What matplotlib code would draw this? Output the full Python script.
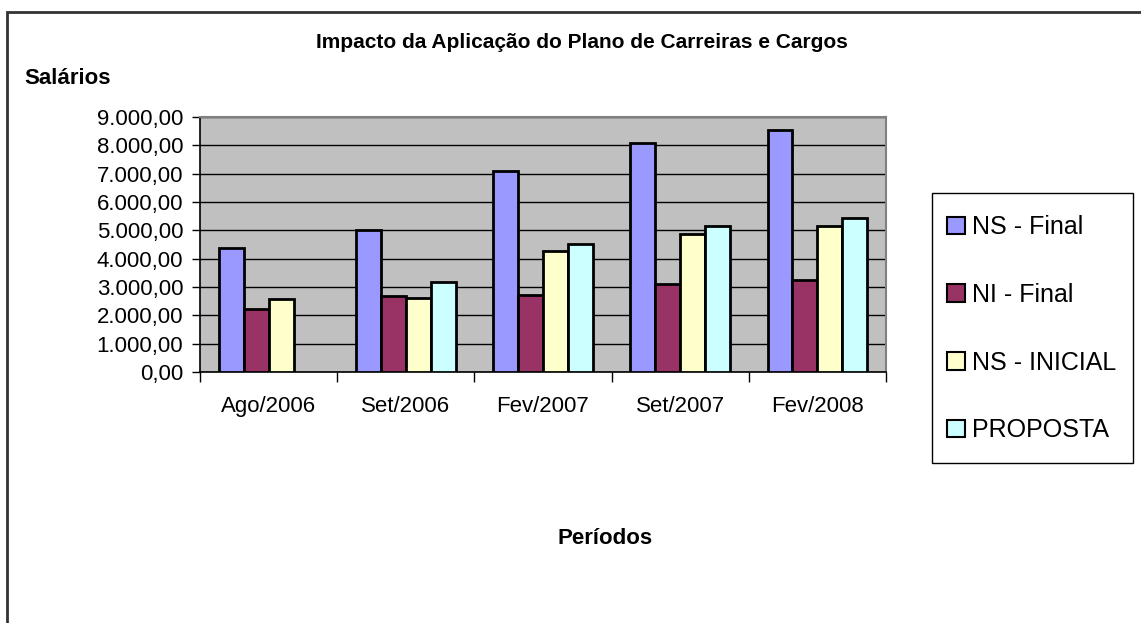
import numpy as np
import matplotlib
matplotlib.use("Agg")
import matplotlib.pyplot as plt
from matplotlib.patches import Rectangle, Patch
from matplotlib.ticker import FuncFormatter, FixedLocator

plt.rcParams['font.family'] = ['Liberation Sans', 'DejaVu Sans']

categories = ["Ago/2006", "Set/2006", "Fev/2007", "Set/2007", "Fev/2008"]
series_names = ["NS - Final", "NI - Final", "NS - INICIAL", "PROPOSTA"]
ns_final = [4390, 5010, 7100, 8080, 8550]
ni_final = [2210, 2680, 2720, 3090, 3260]
ns_inicial = [2570, 2600, 4280, 4870, 5165]
proposta = [np.nan, 3180, 4510, 5140, 5435]
colors = ["#9999FF", "#993366", "#FFFFCC", "#CCFFFF"]

title = "Impacto da Aplicação do Plano de Carreiras e Cargos"
ylabel = "Salários"
xlabel = "Períodos"

W, H = 1141, 623
fig = plt.figure(figsize=(W / 100, H / 100), dpi=100)
ax = fig.add_axes([200 / W, (H - 372) / H, 686 / W, 255 / H])
ax.set_facecolor("#C0C0C0")

n_series = 4
bw = 1 / 5.5
centers = np.arange(len(categories)) + 0.5
all_series = [ns_final, ni_final, ns_inicial, proposta]
handles = []
for i, (vals, col, name) in enumerate(zip(all_series, colors, series_names)):
    vals = np.asarray(vals, dtype=float)
    mask = ~np.isnan(vals)
    x = centers + (i - (n_series - 1) / 2) * bw
    ax.bar(x[mask], vals[mask], width=bw, color=col, edgecolor="black",
           linewidth=2.0, zorder=3)
    handles.append(Patch(facecolor=col, edgecolor="black", linewidth=1.5, label=name))

ax.set_xlim(0, len(categories))
ax.set_ylim(0, 9000)
ax.yaxis.set_major_locator(FixedLocator(np.arange(0, 9001, 1000)))


def br_fmt(v, pos):
    s = f"{v:,.2f}"
    return s.replace(",", "X").replace(".", ",").replace("X", ".")


ax.yaxis.set_major_formatter(FuncFormatter(br_fmt))
ax.grid(axis="y", color="black", linewidth=1.0, zorder=1)
ax.set_axisbelow(True)

ax.set_xticks(np.arange(0, len(categories) + 1))
ax.set_xticklabels([])
ax.set_xticks(centers, minor=True)
ax.set_xticklabels(categories, minor=True)
ax.tick_params(axis="x", which="major", direction="out", length=7, width=1, color="black")
ax.tick_params(axis="x", which="minor", length=0, labelsize=16, pad=17)
ax.tick_params(axis="y", direction="out", length=6, width=1, labelsize=16, pad=6)

for s in ["top", "right"]:
    ax.spines[s].set_color("#808080")
    ax.spines[s].set_linewidth(1.5)
for s in ["left", "bottom"]:
    ax.spines[s].set_color("black")
    ax.spines[s].set_linewidth(1.2)

fig.text(582 / W, 1 - 43 / H, title, ha="center", va="center",
         fontsize=15, fontweight="bold")
fig.text(24 / W, 1 - 78 / H, ylabel, ha="left", va="center",
         fontsize=16, fontweight="bold")
fig.text(605 / W, 1 - 538 / H, xlabel, ha="center", va="center",
         fontsize=16, fontweight="bold")

# legend box
legbox = Rectangle((932 / W, 1 - 463 / H), 201 / W, 270 / H, transform=fig.transFigure,
                   facecolor="white", edgecolor="black", linewidth=1.0, zorder=4)
fig.add_artist(legbox)
leg = fig.legend(handles=handles, loc="upper left",
                 bbox_to_anchor=(947 / W, 1 - 215 / H),
                 fontsize=18, frameon=False,
                 handlelength=0.7, handleheight=0.7, handletextpad=0.3,
                 labelspacing=1.75, borderpad=0, borderaxespad=0)
leg.set_zorder(5)

border = Rectangle((7 / W, -0.2), 1.5, 1.2 - 12 / H, transform=fig.transFigure,
                   fill=False, edgecolor="#333333", linewidth=2.0, clip_on=False)
fig.add_artist(border)

fig.savefig("out.png", dpi=100)
